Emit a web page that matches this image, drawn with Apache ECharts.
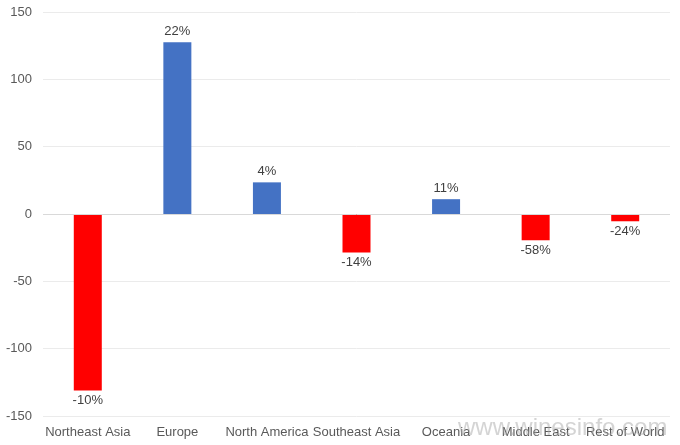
<!DOCTYPE html>
<html>
<head>
<meta charset="utf-8">
<script src="https://cdn.jsdelivr.net/npm/echarts@6/dist/echarts.min.js"></script>
<style>html,body{margin:0;padding:0;background:#fff;}#c{width:680px;height:445px;}</style>
</head>
<body>
<div id="c"></div>
<script>
var categories = ["Northeast Asia", "Europe", "North America", "Southeast Asia", "Oceania", "Middle East", "Rest of World"];
var values = [-131, 127.5, 23.5, -28.5, 11, -19.5, -5.4];
var pctLabels = ["-10%", "22%", "4%", "-14%", "11%", "-58%", "-24%"];
var yTicks = [-150, -100, -50, 0, 50, 100, 150];

var chart = echarts.init(document.getElementById('c'));
var data = values.map(function (v, i) {
  return {
    value: v,
    itemStyle: { color: v >= 0 ? '#4472C4' : '#FF0000' },
    label: { position: v >= 0 ? 'top' : 'bottom', formatter: pctLabels[i] }
  };
});
chart.setOption({
  animation: false,
  textStyle: { fontFamily: 'Liberation Sans, Arial, sans-serif' },
  grid: { left: 43, right: 10, top: 12, bottom: 29 },
  xAxis: {
    type: 'category',
    data: categories,
    axisLine: { show: false },
    axisTick: { show: false },
    axisLabel: { color: '#595959', fontSize: 13, margin: 10, interval: 0 }
  },
  yAxis: {
    type: 'value',
    min: yTicks[0],
    max: yTicks[yTicks.length - 1],
    interval: 50,
    axisLine: { show: false },
    axisTick: { show: false },
    axisLabel: { color: '#595959', fontSize: 13, margin: 11 },
    splitLine: { lineStyle: { color: '#ebebeb', width: 1 } }
  },
  series: [{
    type: 'bar',
    data: data,
    barWidth: 28,
    label: { show: true, color: '#404040', fontSize: 13, distance: 4 },
    markLine: {
      silent: true,
      symbol: 'none',
      label: { show: false },
      lineStyle: { color: '#d9d9d9', type: 'solid', width: 1 },
      data: [{ yAxis: 0 }]
    }
  }],
  graphic: [{
    type: 'text',
    left: 458,
    top: 416,
    silent: true,
    z: 100,
    style: { text: 'www.winesinfo.com', fill: 'rgba(170,170,170,0.5)', font: '24px Liberation Sans, Arial, sans-serif' }
  }]
});
</script>
</body>
</html>
